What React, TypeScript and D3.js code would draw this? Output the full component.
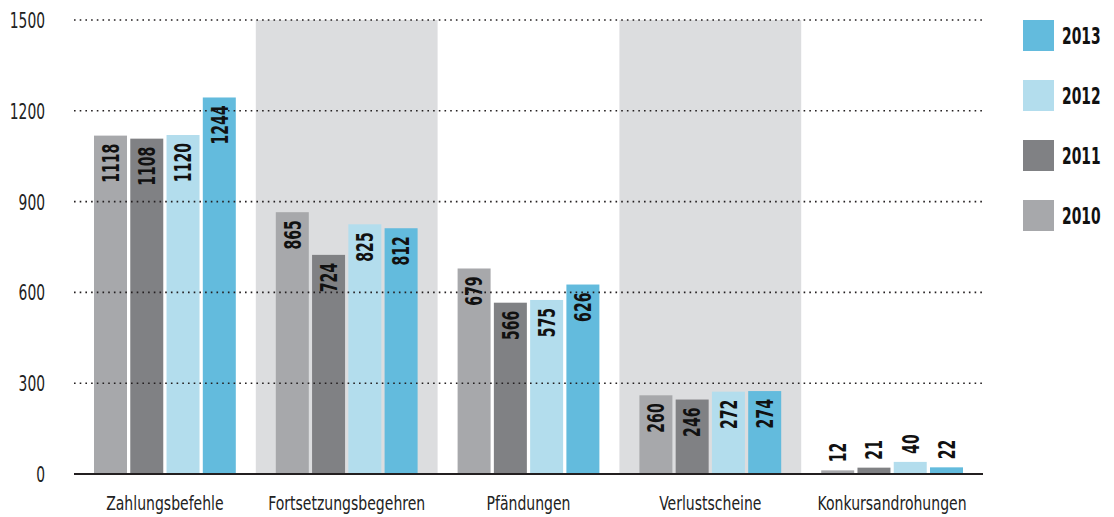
import React from "react";
import * as d3 from "d3";

const categories = ["Zahlungsbefehle", "Fortsetzungsbegehren", "Pfändungen", "Verlustscheine", "Konkursandrohungen"];
const years = ["2010", "2011", "2012", "2013"];
const values2010 = [1118, 865, 679, 260, 12];
const values2011 = [1108, 724, 566, 246, 21];
const values2012 = [1120, 825, 575, 272, 40];
const values2013 = [1244, 812, 626, 274, 22];
const yTicks = [0, 300, 600, 900, 1200, 1500];
const colors = ["#a7a8ab", "#808184", "#b3dded", "#63bbdd"];
const shadedCategories = ["Fortsetzungsbegehren", "Verlustscheine"];

const series = [values2010, values2011, values2012, values2013];

const W = 1114;
const H = 517;
const left = 74;
const right = 983;
const top = 20;
const bottom = 474;
const FONT = "'DejaVu Sans Condensed', 'DejaVu Sans', sans-serif";

export default function App() {
  const x0 = d3.scaleBand<string>().domain(categories).range([left, right]).paddingInner(0).paddingOuter(0);
  const x1 = d3.scaleBand<string>().domain(years).range([20, x0.bandwidth() - 20]).paddingInner(0.09).paddingOuter(0);
  const y = d3.scaleLinear().domain([0, 1500]).range([bottom, top]);

  return (
    <svg width={W} height={H} style={{ position: "absolute", left: 0, top: 0, background: "#fff" }}>
      {categories.filter((c) => shadedCategories.includes(c)).map((c) => (
        <rect key={c} x={x0(c)} y={top} width={x0.bandwidth()} height={bottom - top} fill="#dcdddf" />
      ))}
      {categories.map((c, ci) => (
        <g key={c} transform={`translate(${x0(c)},0)`}>
          {years.map((yr, yi) => {
            const v = series[yi][ci];
            const bx = x1(yr)!;
            const bw = x1.bandwidth();
            const yt = y(v);
            const inside = bottom - yt > 50;
            const cx = bx + bw / 2;
            const ly = inside ? yt + 8 : yt - 8;
            return (
              <g key={yr}>
                <rect x={bx} y={yt} width={bw} height={bottom - yt} fill={colors[yi]} />
                <text
                  transform={`translate(${cx},${ly}) rotate(-90) scale(0.68,1)`}
                  textAnchor={inside ? "end" : "start"}
                  dy="0.36em"
                  fontFamily={FONT}
                  fontWeight="bold"
                  fontSize={23}
                  fill="#111"
                >
                  {v}
                </text>
              </g>
            );
          })}
        </g>
      ))}
      {yTicks.filter((t) => t > 0).map((t) => (
        <line key={t} x1={left} x2={right} y1={y(t)} y2={y(t)} stroke="#231f20" strokeWidth={1.6} strokeDasharray="1.6 4.1" />
      ))}
      <line x1={left} x2={right} y1={bottom} y2={bottom} stroke="#231f20" strokeWidth={2} />
      {yTicks.map((t) => (
        <text key={t} transform={`translate(45,${y(t)}) scale(0.7,1)`} dy="0.36em" textAnchor="end" fontFamily={FONT} fontSize={22} fill="#222">
          {t}
        </text>
      ))}
      {categories.map((c) => (
        <text key={c} transform={`translate(${x0(c)! + x0.bandwidth() / 2},510) scale(0.78,1)`} textAnchor="middle" fontFamily={FONT} fontSize={20} fill="#222">
          {c}
        </text>
      ))}
      {[...years].reverse().map((yr, i) => {
        const yi = years.indexOf(yr);
        return (
          <g key={yr} transform={`translate(1023,${20 + i * 60})`}>
            <rect width={31} height={31} fill={colors[yi]} />
            <text transform="translate(39,15.5) scale(0.67,1)" dy="0.36em" fontFamily={FONT} fontWeight="bold" fontSize={23} fill="#111">
              {yr}
            </text>
          </g>
        );
      })}
    </svg>
  );
}
